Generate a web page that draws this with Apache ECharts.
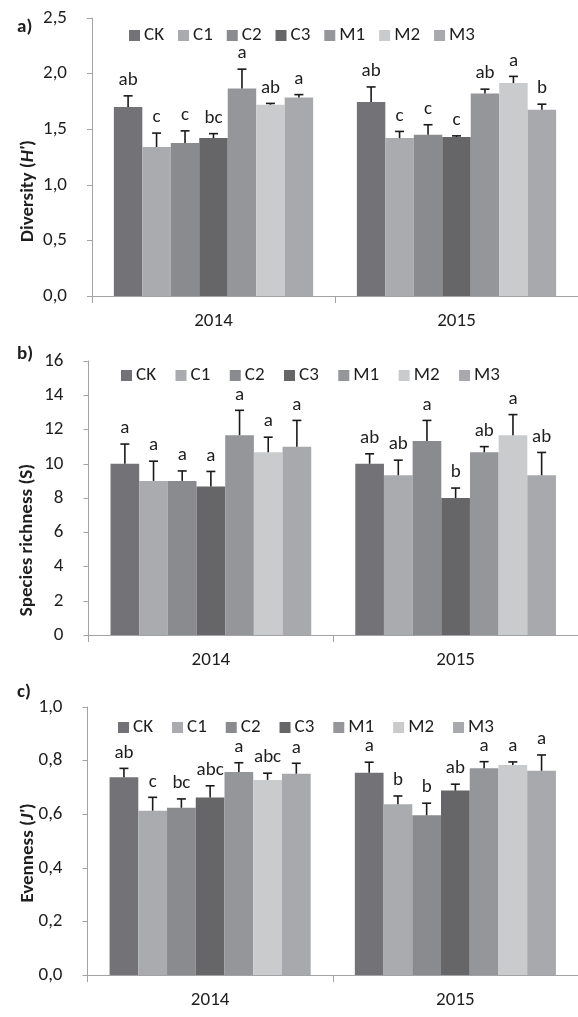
<!DOCTYPE html>
<html>
<head>
<meta charset="utf-8">
<script src="https://cdn.jsdelivr.net/npm/echarts@6/dist/echarts.min.js"></script>
<style>
  html, body { margin: 0; padding: 0; background: #fff; overflow: hidden; }
  #chart { width: 578px; height: 1017px; }
</style>
</head>
<body>
<div id="chart"></div>
<script>
// Treatments and sampling years
const treatments = ['CK', 'C1', 'C2', 'C3', 'M1', 'M2', 'M3'];
const years = ['2014', '2015'];

// a) Shannon diversity H' (mean and standard error)
const diversity2014 = [1.70, 1.34, 1.375, 1.42, 1.865, 1.72, 1.785];
const diversity2015 = [1.745, 1.42, 1.45, 1.43, 1.82, 1.915, 1.675];
const diversitySE2014 = [0.10, 0.125, 0.11, 0.04, 0.175, 0.012, 0.026];
const diversitySE2015 = [0.135, 0.06, 0.09, 0.01, 0.04, 0.06, 0.05];
const diversityLetters2014 = ['ab', 'c', 'c', 'bc', 'a', 'ab', 'a'];
const diversityLetters2015 = ['ab', 'c', 'c', 'c', 'ab', 'a', 'b'];

// b) Species richness S
const richness2014 = [10, 9, 9, 8.67, 11.67, 10.67, 11];
const richness2015 = [10, 9.33, 11.33, 8, 10.67, 11.67, 9.33];
const richnessSE2014 = [1.15, 1.15, 0.58, 0.88, 1.45, 0.88, 1.53];
const richnessSE2015 = [0.58, 0.88, 1.20, 0.58, 0.33, 1.20, 1.33];
const richnessLetters2014 = ['a', 'a', 'a', 'a', 'a', 'a', 'a'];
const richnessLetters2015 = ['ab', 'ab', 'a', 'b', 'ab', 'a', 'ab'];

// c) Pielou evenness J'
const evenness2014 = [0.738, 0.613, 0.624, 0.662, 0.757, 0.728, 0.751];
const evenness2015 = [0.755, 0.637, 0.596, 0.688, 0.771, 0.784, 0.762];
const evennessSE2014 = [0.033, 0.05, 0.033, 0.044, 0.035, 0.025, 0.039];
const evennessSE2015 = [0.039, 0.031, 0.045, 0.024, 0.025, 0.011, 0.059];
const evennessLetters2014 = ['ab', 'c', 'bc', 'abc', 'a', 'abc', 'a'];
const evennessLetters2015 = ['a', 'b', 'b', 'ab', 'a', 'a', 'a'];

// Y tick labels (decimal comma)
const diversityTicks = ['0,0', '0,5', '1,0', '1,5', '2,0', '2,5'];
const richnessTicks = ['0', '2', '4', '6', '8', '10', '12', '14', '16'];
const evennessTicks = ['0,0', '0,2', '0,4', '0,6', '0,8', '1,0'];

// ---- styling ----
const FONT = 'Carlito, Lato, sans-serif';
const TEXT = '#1e1e1e';
const AXIS = '#a3a3a3';
const barColors = ['#737377', '#aaabaf', '#8a8b8f', '#666668', '#95969a', '#cacbcd', '#a8a9ad'];
const CAT_GAP = 0.18;

const panels = [
  {
    means: [diversity2014, diversity2015], se: [diversitySE2014, diversitySE2015],
    letters: [diversityLetters2014, diversityLetters2015], ticks: diversityTicks,
    min: 0, max: 2.5, interval: 0.5,
    grid: { left: 92, top: 18, height: 278, width: 496 },
    legend: { left: 129, top: 26, itemGap: 14 },
    tag: 'a)', tagPos: [17, 28],
    name: '{b|Diversity (}{bi|H\'}{b|)}', namePos: [28, 191]
  },
  {
    means: [richness2014, richness2015], se: [richnessSE2014, richnessSE2015],
    letters: [richnessLetters2014, richnessLetters2015], ticks: richnessTicks,
    min: 0, max: 16, interval: 2,
    grid: { left: 88.5, top: 361, height: 274, width: 505 },
    legend: { left: 121, top: 366, itemGap: 19.5 },
    tag: 'b)', tagPos: [17, 355],
    name: '{b|Species richness (S)}', namePos: [27, 540]
  },
  {
    means: [evenness2014, evenness2015], se: [evennessSE2014, evennessSE2015],
    letters: [evennessLetters2014, evennessLetters2015], ticks: evennessTicks,
    min: 0, max: 1.0, interval: 0.2,
    grid: { left: 87.5, top: 707, height: 268, width: 500 },
    legend: { left: 118, top: 718, itemGap: 19 },
    tag: 'c)', tagPos: [17, 693],
    name: '{b|Evenness (}{bi|J\'}{b|)}', namePos: [28, 853]
  }
];

const grid = [], xAxis = [], yAxis = [], legend = [], series = [], graphic = [];

panels.forEach(function (p, pi) {
  grid.push(p.grid);

  xAxis.push({
    type: 'category', gridIndex: pi, data: years,
    axisLine: { lineStyle: { color: AXIS, width: 1 } },
    axisTick: { show: true, length: 7, lineStyle: { color: AXIS } },
    axisLabel: { color: TEXT, fontSize: 19, fontFamily: FONT, margin: 16 }
  });

  yAxis.push({
    type: 'value', gridIndex: pi, min: p.min, max: p.max, interval: p.interval,
    axisLine: { show: true, lineStyle: { color: AXIS, width: 1 } },
    axisTick: { show: true, length: 5, lineStyle: { color: AXIS } },
    splitLine: { show: false },
    axisLabel: {
      color: TEXT, fontSize: 19, fontFamily: FONT, margin: 25,
      formatter: function (v, i) { return p.ticks[i]; }
    }
  });

  legend.push({
    data: treatments, left: p.legend.left, top: p.legend.top,
    orient: 'horizontal', icon: 'rect', itemWidth: 11, itemHeight: 11,
    itemGap: p.legend.itemGap, padding: 0, selectedMode: false,
    textStyle: { color: TEXT, fontSize: 19, fontFamily: FONT, padding: [0, 0, 0, -1] }
  });

  treatments.forEach(function (t, ti) {
    series.push({
      type: 'bar', name: t, xAxisIndex: pi, yAxisIndex: pi,
      data: [p.means[0][ti], p.means[1][ti]],
      itemStyle: { color: barColors[ti] },
      barGap: '0%', barCategoryGap: (CAT_GAP * 100) + '%',
      animation: false
    });
  });

  // error whiskers (upper SE) and significance letters
  const errData = [];
  years.forEach(function (y, yi) {
    treatments.forEach(function (t, ti) {
      errData.push([yi, p.means[yi][ti], p.se[yi][ti], ti]);
    });
  });
  series.push({
    type: 'custom', xAxisIndex: pi, yAxisIndex: pi, data: errData,
    animation: false, silent: true, z: 5,
    encode: { x: 0, y: 1 },
    renderItem: function (params, api) {
      const yi = api.value(0), mean = api.value(1), se = api.value(2), ti = api.value(3);
      const band = api.size([1, 0])[0];
      const barW = band * (1 - CAT_GAP) / treatments.length;
      const base = api.coord([yi, mean]);
      const x = base[0] + (ti - (treatments.length - 1) / 2) * barW;
      const yTop = api.coord([yi, mean + se])[1];
      const stroke = { stroke: '#1a1a1a', lineWidth: 1.6 };
      return {
        type: 'group',
        children: [
          { type: 'line', shape: { x1: x, y1: base[1], x2: x, y2: yTop }, style: stroke },
          { type: 'line', shape: { x1: x - 4.5, y1: yTop, x2: x + 4.5, y2: yTop }, style: stroke },
          {
            type: 'text', x: x, y: yTop - 6,
            style: {
              text: p.letters[yi][ti], fill: TEXT, font: '19px ' + FONT,
              align: 'center', verticalAlign: 'bottom'
            }
          }
        ]
      };
    }
  });

  graphic.push({
    type: 'text', left: p.tagPos[0], top: p.tagPos[1] - 10,
    style: { text: p.tag, fill: TEXT, font: 'bold 19px ' + FONT }
  });
  graphic.push({
    type: 'text', x: p.namePos[0], y: p.namePos[1], rotation: Math.PI / 2,
    style: {
      text: p.name, align: 'center', verticalAlign: 'middle',
      rich: {
        b: { fontFamily: FONT, fontSize: 19, fontWeight: 'bold', fill: TEXT },
        bi: { fontFamily: FONT, fontSize: 19, fontWeight: 'bold', fontStyle: 'italic', fill: TEXT }
      }
    }
  });
});

const chart = echarts.init(document.getElementById('chart'), null, { renderer: 'canvas' });
chart.setOption({
  backgroundColor: '#ffffff',
  animation: false,
  grid: grid, xAxis: xAxis, yAxis: yAxis, legend: legend,
  series: series, graphic: graphic
});
</script>
</body>
</html>
